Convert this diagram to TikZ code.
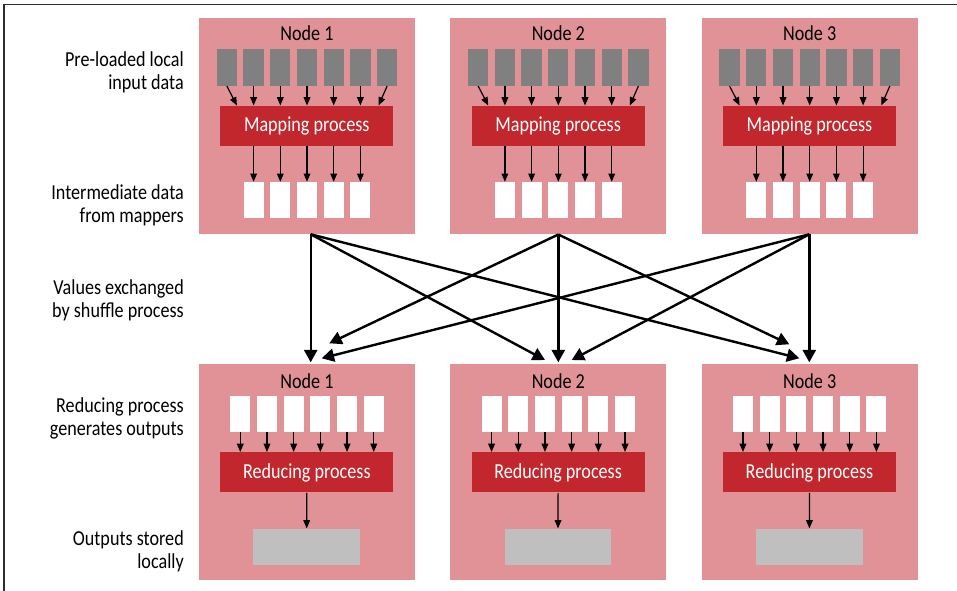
\documentclass[tikz,border=0pt]{standalone}
\usepackage{fontspec}
\setmainfont{Carlito}[FakeStretch=0.85]
\usetikzlibrary{arrows.meta}

\definecolor{hostpink}{RGB}{224,146,150}
\definecolor{procred}{RGB}{193,39,45}
\definecolor{blockgrey}{RGB}{128,128,128}
\definecolor{storegrey}{RGB}{191,191,191}
\definecolor{framegrey}{RGB}{45,45,45}

\tikzset{every picture/.style={line width=0.75pt}}
\tikzset{
  host/.style={fill=hostpink, minimum width=162pt, minimum height=162pt, inner sep=0},
  inblock/.style={fill=blockgrey, minimum width=15.2pt, minimum height=27.5pt, inner sep=0},
  datablock/.style={fill=white, minimum width=15pt, minimum height=27pt, inner sep=0},
  procbox/.style={fill=procred, text=white, minimum width=129.75pt, minimum height=30pt, inner sep=0},
  storebox/.style={fill=storegrey, minimum width=80pt, minimum height=26.8pt, inner sep=0},
  sidelabel/.style={anchor=east, align=right, inner sep=0},
  feed/.style={-{Triangle[length=6.2pt,width=5pt]}, line width=0.9pt},
  shuffle/.style={-{Triangle[length=9.3pt,width=9.8pt]}, line width=1.8pt},
}

\begin{document}
\begin{tikzpicture}[x=0.75pt,y=0.75pt,yscale=-1,xscale=1, font=\fontsize{16pt}{17.25pt}\selectfont]
\useasboundingbox (0,0) rectangle (957,591);

%Frame: top and left edge only
\draw [color=framegrey, line width=1.1pt] (4,591) -- (4,4.5) -- (957,4.5) ;

\foreach \n/\cx in {1/307,2/558.3,3/809.7}{
  % map side
  \node [host] (top\n) at (\cx,126) {};
  \node (toplbl\n) at (\cx,33) {Node \n};
  \node [procbox] (map\n) at (\cx-0.2,126) {Mapping process};
  \foreach \i in {1,...,7}
    \node [inblock] (in\n-\i) at ({\cx+(\i-4)*26.7},67.3) {};
  \foreach \i in {2,...,6}
    \draw [feed] (in\n-\i.south) -- (in\n-\i.south |- map\n.north) ;
  \draw [feed] (in\n-1.south) -- ([xshift=-52.4pt]map\n.north) ;
  \draw [feed] (in\n-7.south) -- ([xshift=53.8pt]map\n.north) ;
  \foreach \i in {1,...,5}{
    \node [datablock] (mid\n-\i) at ({\cx+(\i-3)*26.7},200.3) {};
    \draw [feed] (map\n.south -| mid\n-\i.north) -- (mid\n-\i.north) ;
  }
  % reduce side
  \node [host] (bot\n) at (\cx,472.3) {};
  \node (botlbl\n) at (\cx,380.7) {Node \n};
  \node [procbox] (red\n) at (\cx-0.2,472.5) {Reducing process};
  \foreach \i in {1,...,6}{
    \node [datablock] (got\n-\i) at ({\cx+(\i-3.5)*26.7},413.9) {};
    \draw [feed] (got\n-\i.south) -- (got\n-\i.south |- red\n.north) ;
  }
  \node [storebox] (out\n) at (\cx-0.3,546.8) {};
  \draw [feed] (red\n.south) -- (out\n.north) ;
}

%Shuffle: start and end points
\coordinate (s1) at (310.7,234.3) ;
\coordinate (s2) at (558.3,234.5) ;
\coordinate (s3) at (809.3,234.3) ;
\coordinate (d11) at (310.7,362.3) ;
\coordinate (d21) at (329.3,343.3) ;
\coordinate (d31) at (321.7,358.3) ;
\coordinate (d12) at (545,360) ;
\coordinate (d22) at (558.3,362.3) ;
\coordinate (d32) at (571.7,360) ;
\coordinate (d13) at (799.3,358.3) ;
\coordinate (d23) at (789.3,344.3) ;
\coordinate (d33) at (809.3,362.3) ;
\foreach \a in {1,2,3}
  \foreach \b in {1,2,3}
    \draw [shuffle] (s\a) -- (d\a\b) ;

% Text Node
\node [sidelabel] (lblin) at (184.3,72.5) {Pre-loaded local\\input data};
% Text Node
\node [sidelabel] (lblmid) at (184.3,205.5) {Intermediate data\\from mappers};
% Text Node
\node [sidelabel] (lblshuf) at (184.3,300) {Values exchanged\\by shuffle process};
% Text Node
\node [sidelabel] (lblred) at (184.3,418.5) {Reducing process\\generates outputs};
% Text Node
\node [sidelabel] (lblout) at (184.3,551.5) {Outputs stored\\locally};

\end{tikzpicture}
\end{document}
